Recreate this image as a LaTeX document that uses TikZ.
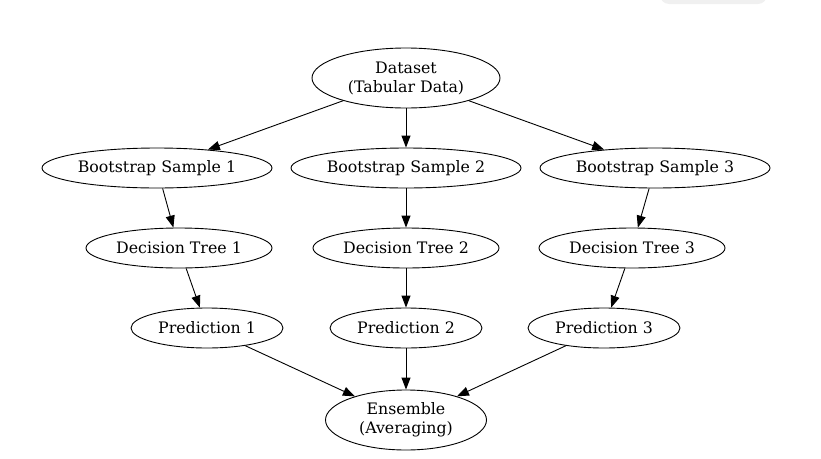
\documentclass[tikz,border=0pt]{standalone}
\usepackage{fontspec}
\setmainfont{DejaVu Serif}
\usetikzlibrary{arrows.meta, shapes.geometric}
\definecolor{tabgray}{HTML}{F0F0F0}
\tikzset{
>={Triangle[length=12pt,width=9pt]}, % filled arrow heads
every node/.style={font=\fontsize{15.8}{19}\selectfont, align=center},
ovalnode/.style={draw, ellipse, inner sep=0pt, line width=0.9pt}, % every node is an oval
bignode/.style={ovalnode, minimum height=60pt}, % two-line ovals
smallnode/.style={ovalnode, minimum height=40pt},
}

\begin{document}
\begin{tikzpicture}[x=1pt, y=-1pt]
  \useasboundingbox (0,0) rectangle (821,458);
  \clip (0,0) rectangle (821,458);
  \fill[tabgray, rounded corners=9pt] (660,-20) rectangle (767,4);

  \node[bignode, minimum width=188pt] (ds) at (406,78) {Dataset\\(Tabular Data)};

  \node[smallnode, minimum width=230pt] (b1) at (157,168) {Bootstrap Sample 1};
  \node[smallnode, minimum width=230pt] (b2) at (406,168) {Bootstrap Sample 2};
  \node[smallnode, minimum width=230pt] (b3) at (655,168) {Bootstrap Sample 3};

  \node[smallnode, minimum width=186pt] (t1) at (179,248) {Decision Tree 1};
  \node[smallnode, minimum width=186pt] (t2) at (406,248) {Decision Tree 2};
  \node[smallnode, minimum width=186pt] (t3) at (632,248) {Decision Tree 3};

  \node[smallnode, minimum width=152pt] (p1) at (207,328) {Prediction 1};
  \node[smallnode, minimum width=152pt] (p2) at (406,328) {Prediction 2};
  \node[smallnode, minimum width=152pt] (p3) at (604,328) {Prediction 3};

  \node[bignode, minimum width=161pt] (ens) at (406,420) {Ensemble\\(Averaging)};

  \path[->, line width=0.9pt]
  (ds) edge (b1) edge (b2) edge (b3)
  (b1) edge (t1) (b2) edge (t2) (b3) edge (t3)
  (t1) edge (p1) (t2) edge (p2) (t3) edge (p3)
  (p1) edge (ens) (p2) edge (ens) (p3) edge (ens);
\end{tikzpicture}
\end{document}
